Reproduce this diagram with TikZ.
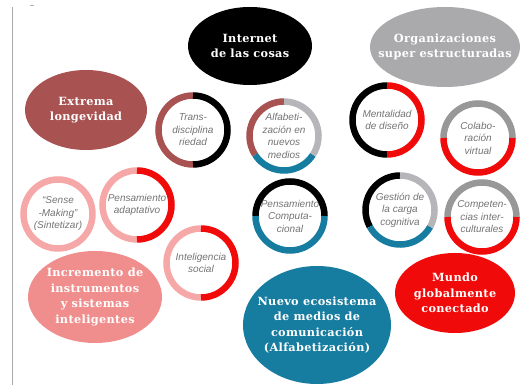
\documentclass[tikz,border=0pt]{standalone}
\usepackage{fontspec}
\setmainfont{DejaVu Serif}[LetterSpace=3]
\newfontfamily\ringfont{Liberation Sans}
\usetikzlibrary{positioning}
\definecolor{darkrose}{RGB}{168,82,82}
\definecolor{rosepink}{RGB}{240,142,142}
\definecolor{lightrose}{RGB}{246,168,168}
\definecolor{brightred}{RGB}{240,10,10}
\definecolor{tealblue}{RGB}{22,125,160}
\definecolor{ovalgray}{RGB}{170,170,172}
\definecolor{lightgray}{RGB}{182,182,186}
\definecolor{darkgray}{RGB}{152,152,152}
\definecolor{textgray}{RGB}{115,115,115}
\begin{document}
\begin{tikzpicture}[x=1pt, y=1pt,
  trend/.style={text=white,align=center,inner sep=0pt,font=\bfseries\fontsize{11.3}{15.5}\selectfont},
  skill/.style={text=textgray,align=center,inner sep=0pt,font=\ringfont\itshape\fontsize{10}{12.5}\selectfont},
  band/.style={line width=6.5pt}]
\useasboundingbox (0,0) rectangle (521,385);
\draw[ovalgray, line width=0.8pt] (12,378) -- (12,0);
\draw[ovalgray, line width=0.6pt] (30,380) -- (34,380);
\foreach \n/\x/\y/\rx/\ry/\c/\t in {
    internet/250/339/62/39/black/{Internet\\de las cosas},
    orgs/445/338/75/40/ovalgray/{Organizaciones\\super estructuradas},
    extrema/86/275/61/40/darkrose/{Extrema\\longevidad},
    incremento/95/88/67/46/rosepink/{Incremento de\\instrumentos\\y sistemas\\inteligentes},
    nuevo/317/60/74/59/tealblue/{Nuevo ecosistema\\de medios de\\comunicación\\(Alfabetización)},
    mundo/455/92/60/40/brightred/{Mundo\\globalmente\\conectado}} {
  \fill[\c] (\x,\y) ellipse ({\rx} and {\ry});
  \node[trend] (\n) at (\x,\y) {\t};
}
\foreach \n/\x/\y/\t in {
    trans/193/255/{Trans-\\disciplina\\riedad},
    alfa/284/249/{Alfabeti-\\zación en\\nuevos\\medios},
    mental/387/265/{Mentalidad\\de diseño},
    colab/478/247/{Colabo-\\ración\\virtual},
    pcomp/290/169/{Pensamiento\\Computa-\\cional},
    gestion/400/175/{Gestión de\\la carga\\cognitiva},
    compet/482/168/{Competen-\\cias inter-\\culturales},
    sense/58/171/{“Sense\\-Making”\\(Sintetizar)},
    padapt/137/180/{Pensamiento\\adaptativo},
    intsoc/201/122/{Inteligencia\\social}} {
  \node[skill] (\n) at (\x,\y) {\t};
}
\foreach \n/\a/\b/\c in {
    trans/90/270/darkrose, trans/-90/90/black,
    alfa/90/213/darkrose, alfa/213/327/tealblue, alfa/327/450/lightgray,
    mental/90/270/black, mental/-90/90/brightred,
    colab/0/180/darkgray, colab/180/360/brightred,
    pcomp/0/180/black, pcomp/180/360/tealblue,
    gestion/90/209/black, gestion/209/331/tealblue, gestion/331/450/lightgray,
    compet/0/180/darkgray, compet/180/360/brightred,
    sense/0/360/lightrose,
    padapt/90/270/lightrose, padapt/-90/90/brightred,
    intsoc/90/270/lightrose, intsoc/-90/90/brightred} {
  \draw[band,\c] ([shift={(\a:34.5pt)}]\n.center) arc[start angle=\a, end angle=\b, radius=34.5pt];
}
\end{tikzpicture}
\end{document}
